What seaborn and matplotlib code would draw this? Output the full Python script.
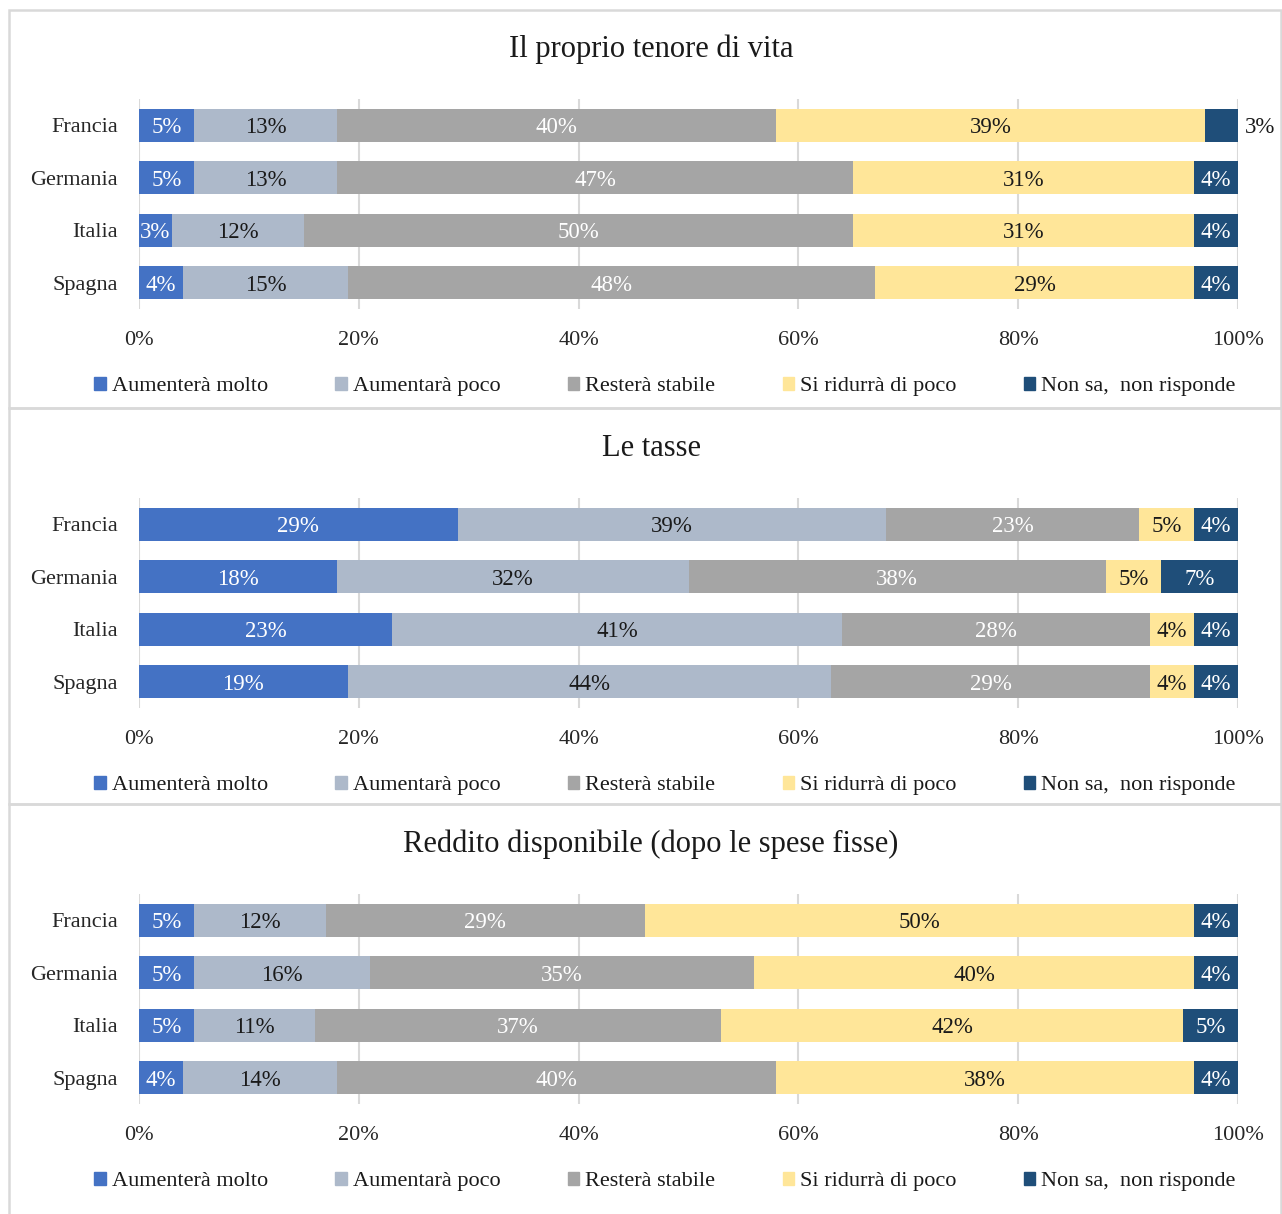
import matplotlib
matplotlib.use("Agg")
import matplotlib.pyplot as plt
import pandas as pd
import seaborn as sns
from matplotlib.patches import Patch, Rectangle

# --- data -------------------------------------------------------------
countries = ["Francia", "Germania", "Italia", "Spagna"]
categories = ["Aumenterà molto", "Aumentarà poco", "Resterà stabile",
              "Si ridurrà di poco", "Non sa,  non risponde"]
titles = ["Il proprio tenore di vita", "Le tasse",
          "Reddito disponibile (dopo le spese fisse)"]

tenore_vita = [[5, 13, 40, 39, 3],
               [5, 13, 47, 31, 4],
               [3, 12, 50, 31, 4],
               [4, 15, 48, 29, 4]]
tasse = [[29, 39, 23, 5, 4],
         [18, 32, 38, 5, 7],
         [23, 41, 28, 4, 4],
         [19, 44, 29, 4, 4]]
reddito = [[5, 12, 29, 50, 4],
           [5, 16, 35, 40, 4],
           [5, 11, 37, 42, 5],
           [4, 14, 40, 38, 4]]
ticks = [0, 20, 40, 60, 80, 100]

colors = ["#4472C4", "#ADB9CA", "#A5A5A5", "#FFE699", "#1F4E79"]
label_colors = ["white", "#1a1a1a", "white", "#1a1a1a", "white"]

# --- style ------------------------------------------------------------
sns.set_theme(style="white")
plt.rcParams["font.family"] = ["Liberation Serif", "DejaVu Serif"]
plt.rcParams["text.color"] = "#1a1a1a"

W, H = 1282, 1214
fig = plt.figure(figsize=(W / 100, H / 100), dpi=100)

# panel boxes (pixel tops / bottoms)
panel_tops = [10, 408, 804]
panel_bots = [408, 804, 1230]
axes_tops = [99, 498, 894]
title_y = [49, 448, 844]
ax_left, ax_w, ax_h = 139, 1099, 210

for pt, pb in zip(panel_tops, panel_bots):
    fig.patches.append(Rectangle((9 / W, 1 - pb / H), 1272 / W, (pb - pt) / H,
                                 transform=fig.transFigure, fill=False,
                                 edgecolor="#D9D9D9", linewidth=1.8, zorder=0))

for k, data in enumerate([tenore_vita, tasse, reddito]):
    ax = fig.add_axes([ax_left / W, 1 - (axes_tops[k] + ax_h) / H, ax_w / W, ax_h / H])
    df = pd.DataFrame(data, index=countries, columns=categories)
    cum = df.cumsum(axis=1)

    # layered cumulative bars: widest first, so shorter ones sit on top
    for i in reversed(range(len(categories))):
        sns.barplot(x=cum.iloc[:, i].values, y=countries, orient="h",
                    color=colors[i], saturation=1, width=0.63,
                    errorbar=None, linewidth=0, ax=ax)

    for r, country in enumerate(countries):
        for i, cat in enumerate(categories):
            v = df.loc[country, cat]
            right = cum.loc[country, cat]
            if i == len(categories) - 1 and v <= 3 and k == 0 and country == "Francia":
                ax.text(100.6, r, f"{v}%", ha="left", va="center_baseline",
                        fontsize=16.5, color="#1a1a1a", clip_on=False)
            else:
                ax.text(right - v / 2, r, f"{v}%", ha="center", va="center_baseline",
                        fontsize=16.5, color=label_colors[i])

    ax.set_xlim(0, 100)
    ax.set_ylim(3.5, -0.5)
    ax.set_xticks(ticks)
    ax.set_xticklabels([f"{t}%" for t in ticks], fontsize=16)
    ax.tick_params(axis="y", labelsize=16, length=0, pad=15)
    ax.tick_params(axis="x", length=0, pad=16)
    ax.set_xlabel("")
    ax.set_ylabel("")
    ax.xaxis.grid(True, color="#D9D9D9", linewidth=1.5)
    ax.set_axisbelow(True)
    for s in ax.spines.values():
        s.set_visible(False)

    fig.text(651 / W, 1 - title_y[k] / H, titles[k], ha="center", va="center",
             fontsize=22)

    handles = [Patch(color=c, label=l) for c, l in zip(colors, categories)]
    ax.legend(handles=handles, ncol=5, loc="center",
              bbox_to_anchor=(0.4786, -0.37), frameon=False, fontsize=16,
              handlelength=0.5, handleheight=0.5, handletextpad=0.27,
              columnspacing=3.05, borderpad=0)

fig.savefig("out.png", dpi=100)
